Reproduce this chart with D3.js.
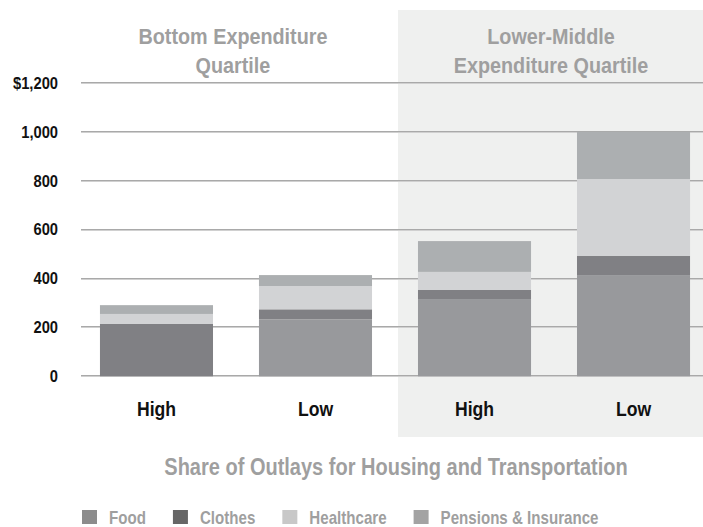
<!DOCTYPE html>
<html>
<head>
<meta charset="utf-8">
<script src="https://cdn.jsdelivr.net/npm/d3@7"></script>
<style>
  body { margin: 0; background: #fff; }
  svg { display: block; font-family: "Liberation Sans", Arial, sans-serif; font-weight: bold; }
</style>
</head>
<body>
<svg id="chart" width="703" height="527"></svg>
<script>
// data
var categories = ["High", "Low", "High ", "Low "];
var groups = [["Bottom Expenditure", "Quartile"], ["Lower-Middle", "Expenditure Quartile"]];
var series = ["Food", "Clothes", "Healthcare", "Pensions & Insurance"];
var food = [0, 233, 316, 414];
var clothes = [214, 41, 37, 78];
var healthcare = [41, 95, 74, 315];
var pensions = [36, 45, 126, 193];
var yTicks = [0, 200, 400, 600, 800, 1000, 1200];

var barColors = ["#98999c", "#808084", "#d2d3d5", "#acafb1"],
  legendColors = ["#8c8c8c", "#666666", "#c8c8c8", "#a3a3a3"],
  greyText = "#9f9f9f";

var svg = d3.select("#chart"),
  width = 703,
  rows = categories.map(function(c, i) {
    return { cat: c, Food: food[i], Clothes: clothes[i], Healthcare: healthcare[i], "Pensions & Insurance": pensions[i] };
  }),
  stack = d3.stack().keys(series)(rows),
  x = d3.scaleBand()
    .domain(categories)
    .range([80, 710])
    .paddingInner(0.289)
    .paddingOuter(0.1255),
  y = d3.scaleLinear()
    .domain([0, 1200])
    .range([376.3, 82.9]),
  panelX = x(categories[2]) - 20;

// condensed look: no narrow face installed, so squeeze the text horizontally
var label = function(parent, tx, ty, str, size, fill, anchor, sx) {
  return parent.append("text")
    .attr("transform", "translate(" + tx + "," + ty + ") scale(" + sx + ",1)")
    .attr("text-anchor", anchor)
    .attr("font-size", size)
    .attr("fill", fill)
    .text(str);
};

// shaded panel for the second quartile
svg.append("rect")
  .attr("x", panelX)
  .attr("y", 10)
  .attr("width", width - panelX)
  .attr("height", 427)
  .attr("fill", "#eff0ef");

// gridlines
var grid = svg.append("g").attr("class", "grid");
yTicks.forEach(function(t) {
  var yy = Math.round(y(t));
  grid.append("line")
    .attr("x1", 81).attr("x2", width)
    .attr("y1", yy - 0.5).attr("y2", yy - 0.5)
    .attr("stroke", "#a9a9a9");
  grid.append("line")
    .attr("x1", 81).attr("x2", width)
    .attr("y1", yy + 0.5).attr("y2", yy + 0.5)
    .attr("stroke", "#d0d0d0");
});

// y labels
var yAxis = svg.append("g");
yTicks.forEach(function(d) {
  label(yAxis, 58, y(d) + 5.8, d === 1200 ? "$1,200" : d3.format(",")(d), 16, "#111", "end", 0.92);
});

// stacked bars
svg.append("g")
  .selectAll("g")
  .data(stack)
  .enter()
  .append("g")
    .attr("fill", function(d, i) { return barColors[i]; })
  .selectAll("rect")
  .data(function(d) { return d; })
  .enter()
  .append("rect")
    .attr("x", function(d) { return x(d.data.cat); })
    .attr("width", x.bandwidth())
    .attr("y", function(d) { return y(d[1]); })
    .attr("height", function(d) { return y(d[0]) - y(d[1]); });

// x labels
var xAxis = svg.append("g");
categories.forEach(function(d) {
  label(xAxis, x(d) + x.bandwidth() / 2, 416, d.trim(), 20, "#111", "middle", 0.88);
});

// group titles
groups.forEach(function(lines, g) {
  var a = categories[g * 2], b = categories[g * 2 + 1],
    cx = (x(a) + x(b) + x.bandwidth()) / 2 - 3;
  lines.forEach(function(line, i) {
    label(svg, cx, 44 + i * 29, line, 22, greyText, "middle", 0.9);
  });
});

// axis title
label(svg, 396, 475, "Share of Outlays for Housing and Transportation", 23, greyText, "middle", 0.87);

// legend
var legend = svg.append("g").attr("class", "legend"),
  lx = 82, sx = 0.84;
series.forEach(function(s, i) {
  legend.append("rect")
    .attr("x", lx)
    .attr("y", 510)
    .attr("width", 15)
    .attr("height", 14)
    .attr("fill", legendColors[i]);
  var t = label(legend, lx + 27, 524, s, 18, greyText, "start", sx);
  lx += 27 + t.node().getComputedTextLength() * sx + 27;
});
</script>
</body>
</html>
